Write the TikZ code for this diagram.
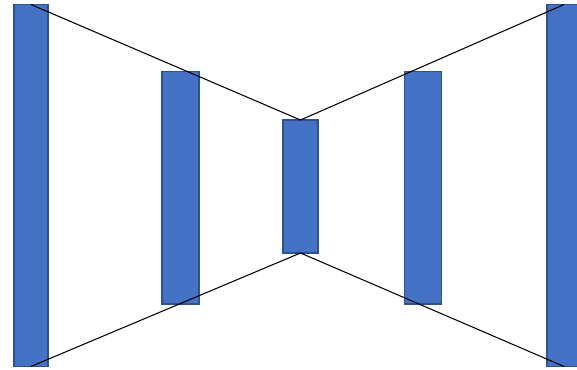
\documentclass[tikz,border=0pt]{standalone}
\usepackage{tikz}

\definecolor{barfill}{HTML}{4472C4}
\definecolor{barline}{HTML}{2F528F}

\begin{document}
\begin{tikzpicture}[
    x=0.02cm, y=-0.02cm,
    bar/.style={rectangle, draw=barline, fill=barfill, line width=0.9pt,
                inner sep=0pt, outer sep=0pt},
    link/.style={black, line width=0.6pt}
]
    \useasboundingbox (0,0) rectangle (577,369);
    \clip (0,0) rectangle (577,369);

    % layers, wide - narrow - wide
    \node[bar, minimum width=0.68cm, minimum height=7.24cm] (l1) at (31,185.5) {};
    \node[bar, minimum width=0.74cm, minimum height=4.65cm] (l2) at (180.5,187.8) {};
    \node[bar, minimum width=0.70cm, minimum height=2.66cm] (l3) at (300.5,186.5) {};
    \node[bar, minimum width=0.74cm, minimum height=4.65cm] (l4) at (423,187.8) {};
    \node[bar, minimum width=0.68cm, minimum height=7.24cm] (l5) at (564,185.5) {};

    \draw[link] (l1.north) -- (l3.north) -- (l5.north);
    \draw[link] (l1.south) -- (l3.south) -- (l5.south);
\end{tikzpicture}
\end{document}
